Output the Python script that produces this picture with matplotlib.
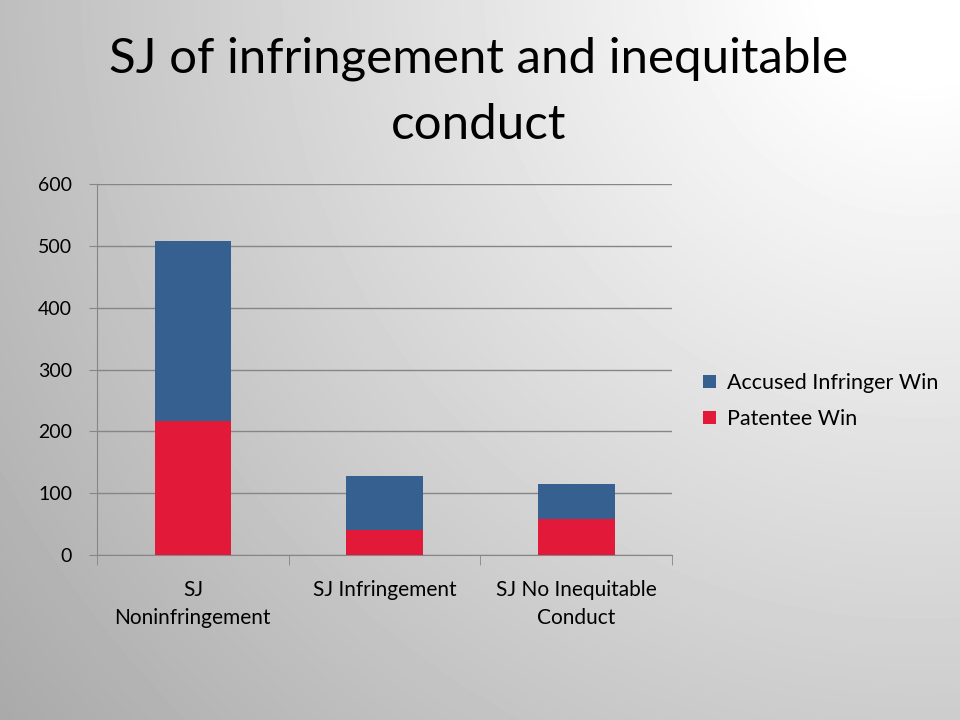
import numpy as np
import matplotlib
matplotlib.use("Agg")
import matplotlib.pyplot as plt

categories = ["SJ\nNoninfringement", "SJ Infringement", "SJ No Inequitable\nConduct"]
patentee_win = [217, 40, 58]
accused_win = [291, 88, 57]
yticks = [0, 100, 200, 300, 400, 500, 600]

blue = "#36608F"
red = "#E3193A"

plt.rcParams['font.family'] = ['Lato', 'DejaVu Sans']

fig = plt.figure(figsize=(9.6, 7.2), dpi=100)

# radial gradient background (light at top right)
bg = fig.add_axes([0, 0, 1, 1], zorder=-10)
yy, xx = np.mgrid[0:720, 0:960]
d = np.sqrt((xx - 920) ** 2 + (yy + 20) ** 2) / 1000.0
shade = np.clip(1.03 - 0.31 * d, 0.65, 1.0)
bg.imshow(shade, cmap="gray", vmin=0, vmax=1, aspect="auto", extent=[0, 1, 0, 1])
bg.axis("off")

ax = fig.add_axes([97 / 960, 1 - 555 / 720, 575 / 960, 371 / 720])
ax.patch.set_alpha(0)
x = np.arange(len(categories))
ax.bar(x, patentee_win, width=0.4, color=red, label="Patentee Win", zorder=3)
ax.bar(x, accused_win, width=0.4, bottom=patentee_win, color=blue,
       label="Accused Infringer Win", zorder=3)

ax.set_xlim(-0.5, len(categories) - 0.5)
ax.set_ylim(0, 600)
ax.set_yticks(yticks)
ax.yaxis.grid(True, color="#868686", linewidth=1)
ax.set_axisbelow(True)
for s in ["top", "right"]:
    ax.spines[s].set_visible(False)
ax.spines["left"].set_color("#868686")
ax.spines["bottom"].set_color("#868686")
ax.tick_params(axis="y", length=6, color="#868686", labelsize=14, pad=12)
ax.set_xticks(x)
ax.set_xticklabels(categories, fontsize=15, linespacing=1.5)
ax.tick_params(axis="x", length=0, pad=18)
ax.set_xticks(np.arange(len(categories) + 1) - 0.5, minor=True)
ax.tick_params(axis="x", which="minor", length=7, color="#868686")

handles, labels = ax.get_legend_handles_labels()
ax.legend(handles[::-1], labels[::-1], loc="center left", bbox_to_anchor=(1.02, 0.415),
          frameon=False, fontsize=15.5, handlelength=0.6, handleheight=0.6,
          handletextpad=0.5, labelspacing=0.75)

fig.text(0.5 * (110 + 848) / 960, 1 - 92 / 720,
         "SJ of infringement and inequitable\nconduct",
         ha="center", va="center", fontsize=35.5, linespacing=1.62)

fig.savefig("out.png", dpi=100)
